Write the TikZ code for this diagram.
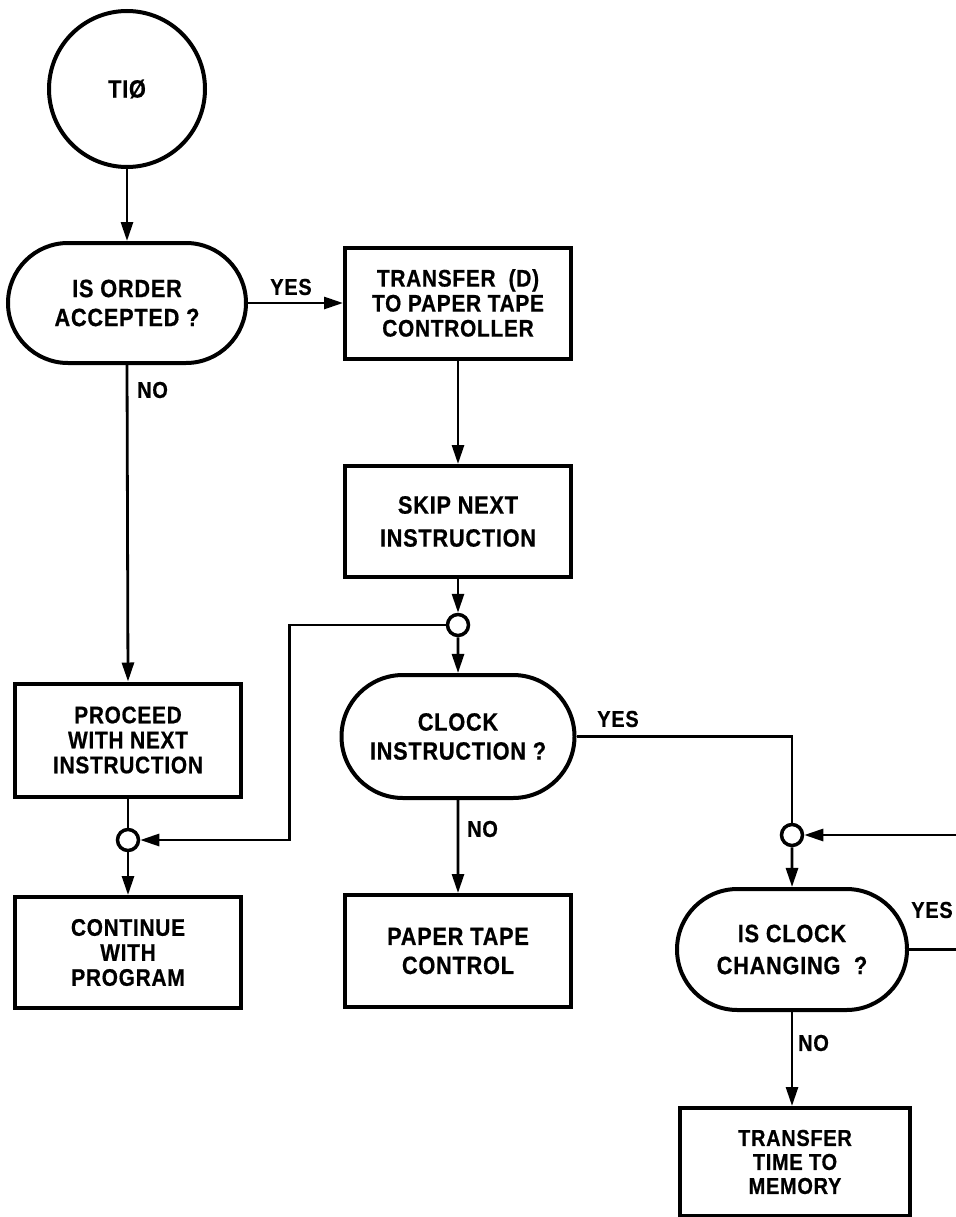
\documentclass[tikz,border=0pt]{standalone}
\usepackage{fontspec}
\setmainfont{Liberation Sans}[FakeStretch=0.87,FakeBold=0.6,LetterSpace=3]
\usetikzlibrary{arrows.meta,shapes.misc}
\begin{document}
\begin{tikzpicture}[x=1pt,y=-1pt,
  txt/.style={font=\bfseries\fontsize{25}{29}\selectfont, align=center, inner sep=0pt},
  three/.style={font=\bfseries\fontsize{24}{25}\selectfont},
  boxnode/.style={txt, draw, line width=4pt, rectangle, minimum width=226pt, minimum height=111pt},
  stadium/.style={txt, draw, line width=4pt, rounded rectangle, rounded rectangle arc length=180, minimum width=234pt, minimum height=120pt},
  junction/.style={draw, circle, line width=3.5pt, minimum size=21pt, inner sep=0pt},
  conn/.style={line width=2.8pt},
  arr/.style={conn, -{Triangle[length=19pt,width=12pt]}},
  lbl/.style={font=\bfseries\fontsize{23}{25}\selectfont, inner sep=0pt}
]
\useasboundingbox (0,0) rectangle (955,1217);
\fill[white] (0,0) rectangle (955,1217);

% column 1
\node[draw, circle, line width=4pt, minimum size=156pt, txt] (tio) at (127,89) {TI\O};
\node[stadium, minimum width=238pt] (d1) at (127,303) {IS ORDER\\ACCEPTED ?};
\node[boxnode, minimum height=113pt, three] (proc) at (128,740) {PROCEED\\WITH NEXT\\INSTRUCTION};
\node[junction] (cB) at (128,840) {};
\node[boxnode, three] (cont) at (128,952.5) {CONTINUE\\WITH\\PROGRAM};

% column 2
\node[boxnode, three] (t1) at (458,303) {TRANSFER\ \ (D)\\TO PAPER TAPE\\CONTROLLER};
\node[boxnode, font=\bfseries\fontsize{25}{33}\selectfont] (skip) at (458,521.5) {SKIP NEXT\\INSTRUCTION};
\node[junction] (cA) at (458,625) {};
\node[stadium, minimum width=233pt, minimum height=123pt] (clock) at (458,736.5) {CLOCK\\INSTRUCTION ?};
\node[boxnode, minimum height=112pt] (ptc) at (458,951) {PAPER TAPE\\CONTROL};

% column 3
\node[junction] (cC) at (792,835) {};
\node[stadium, minimum width=230pt, minimum height=121pt, font=\bfseries\fontsize{25}{32}\selectfont] (chg) at (792,949.5) {IS CLOCK\\CHANGING \ ?};
\node[boxnode, minimum width=230pt, minimum height=108pt, font=\bfseries\fontsize{23}{24}\selectfont] (ttm) at (795,1162) {TRANSFER\\TIME TO\\MEMORY};

\coordinate (rin) at (960,835);
\coordinate (rout) at (960,949.5);

% connectors
\draw[arr] (tio) -- (d1);
\draw[arr] (d1.east) -- (t1.west);
\draw[arr] (d1.south) -- (proc.north);
\draw[arr] (t1) -- (skip);
\draw[arr] (skip) -- (cA);
\draw[arr] (cA) -- (clock);
\draw[arr] (cA.west) -- ++(-156,0) |- (cB.east);
\draw[conn] (proc) -- (cB);
\draw[arr] (cB) -- (cont);
\draw[arr] (clock) -- (ptc);
\draw[conn] (clock.east) -| (cC.north);
\draw[arr] (rin) -- (cC.east);
\draw[arr] (cC) -- (chg);
\draw[conn] (chg.east) -- (rout);
\draw[arr] (chg.south) -- (ttm.north -| chg.south);

% labels
\node[lbl] (yes1) at (291,287) {YES};
\node[lbl, anchor=west] (no1) at (137,390) {NO};
\node[lbl] (yes2) at (618,719) {YES};
\node[lbl, anchor=west] (no2) at (467,829) {NO};
\node[lbl] (yes3) at (932,910) {YES};
\node[lbl, anchor=west] (no3) at (798,1043) {NO};
\end{tikzpicture}
\end{document}
